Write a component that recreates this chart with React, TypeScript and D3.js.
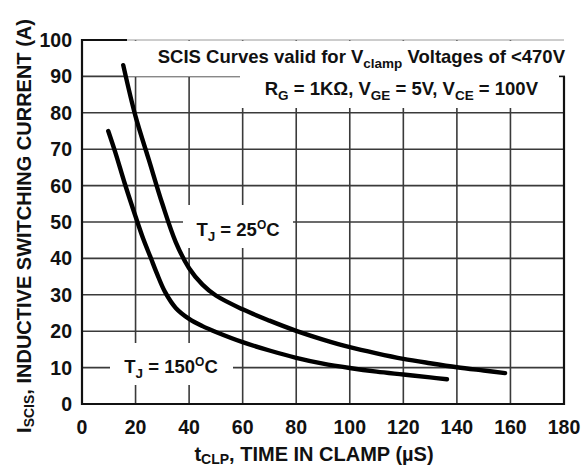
import React from "react";
import * as d3 from "d3";

const xTicks = [0, 20, 40, 60, 80, 100, 120, 140, 160, 180];
const yTicks = [0, 10, 20, 30, 40, 50, 60, 70, 80, 90, 100];

const t25X = [15.4, 20, 25, 30, 35, 40, 45, 50, 60, 70, 80, 90, 100, 110, 120, 130, 140, 150, 158];
const t25Y = [93.1, 79, 67, 55, 44.5, 37.3, 32.8, 29.8, 26, 22.9, 20.1, 17.7, 15.6, 13.9, 12.4, 11.2, 10.1, 9.2, 8.5];

const t150X = [9.8, 12.5, 16, 20, 22.9, 25.6, 28, 31, 35, 40, 45, 50, 60, 70, 80, 90, 100, 110, 120, 130, 136.3];
const t150Y = [75, 69, 60.5, 51.5, 45.3, 40.3, 35.8, 30.8, 26.4, 23.4, 21.4, 19.8, 17, 14.7, 12.7, 11.1, 9.9, 8.9, 8.1, 7.3, 6.8];

const FONT = "'Liberation Sans', Arial, Helvetica, sans-serif";

export default function App() {
  const x = d3.scaleLinear().domain([0, 180]).range([82, 564]);
  const y = d3.scaleLinear().domain([0, 100]).range([404, 40]);
  const line = d3
    .line<[number, number]>()
    .x((d) => x(d[0]))
    .y((d) => y(d[1]))
    .curve(d3.curveCatmullRom.alpha(0.5));
  const p25 = line(t25X.map((v, i) => [v, t25Y[i]] as [number, number])) || "";
  const p150 = line(t150X.map((v, i) => [v, t150Y[i]] as [number, number])) || "";
  const gridColor = "#3a3a3a";

  return (
    <svg
      width={582}
      height={469}
      style={{ position: "absolute", left: 0, top: 0, background: "#fff" }}
      fontFamily={FONT}
      fontWeight="bold"
    >
      <rect x={0} y={0} width={582} height={469} fill="#fff" />
      {/* grid */}
      {xTicks.slice(1, -1).map((t) => (
        <line key={"vx" + t} x1={x(t)} x2={x(t)} y1={y(0)} y2={y(100)} stroke={gridColor} strokeWidth={1.6} />
      ))}
      {yTicks.slice(1, -1).map((t) => (
        <line key={"hy" + t} x1={x(0)} x2={x(180)} y1={y(t)} y2={y(t)} stroke={gridColor} strokeWidth={1.6} />
      ))}
      {/* white masks */}
      <rect x={127} y={y(100) + 1} width={x(180) - 127 + 2} height={y(90) - y(100) - 1} fill="#fff" />
      <rect x={240} y={y(90) - 1} width={x(180) - 240 + 2} height={108 - y(90) + 1} fill="#fff" />
      <rect x={183} y={205} width={110} height={43} fill="#fff" />
      <rect x={110} y={343} width={123} height={42} fill="#fff" />
      {/* borders */}
      <line x1={x(0)} x2={x(180)} y1={y(100)} y2={y(100)} stroke="#9a9a9a" strokeWidth={1} />
      <line x1={x(0) - 1} x2={127} y1={y(100)} y2={y(100)} stroke="#111" strokeWidth={2} />
      <line x1={x(0)} x2={x(0)} y1={y(100) - 1} y2={y(0) + 1} stroke="#111" strokeWidth={2.2} />
      <line x1={x(0) - 1} x2={x(180) + 1} y1={y(0)} y2={y(0)} stroke="#111" strokeWidth={2.2} />
      <line x1={x(180)} x2={x(180)} y1={y(90)} y2={y(0) + 1} stroke="#111" strokeWidth={2.2} />
      <line x1={x(180) - 5} x2={x(180) + 1} y1={y(90)} y2={y(90)} stroke="#111" strokeWidth={1.6} />
      {/* curves */}
      <path d={p25} fill="none" stroke="#000" strokeWidth={4.4} strokeLinecap="round" strokeLinejoin="round" />
      <path d={p150} fill="none" stroke="#000" strokeWidth={4.4} strokeLinecap="round" strokeLinejoin="round" />
      {/* tick labels */}
      {yTicks.map((t) => (
        <text key={"yl" + t} x={72} y={y(t)} dy="0.36em" textAnchor="end" fontSize={19.5} fill="#111">
          {t}
        </text>
      ))}
      {xTicks.map((t) => (
        <text key={"xl" + t} x={x(t)} y={434} textAnchor="middle" fontSize={19.5} fill="#111">
          {t}
        </text>
      ))}
      {/* axis titles */}
      <text x={314} y={461} textAnchor="middle" fontSize={20} fill="#111">
        t<tspan fontSize={14} dy={3}>CLP</tspan>
        <tspan dy={-3}>, TIME IN CLAMP (µS)</tspan>
      </text>
      <text transform="translate(31,226) rotate(-90)" textAnchor="middle" fontSize={20} fill="#111">
        I<tspan fontSize={14} dy={3}>SCIS</tspan>
        <tspan dy={-3}>, INDUCTIVE SWITCHING CURRENT (A)</tspan>
      </text>
      {/* annotations */}
      <text x={565} y={63} textAnchor="end" fontSize={18.5} fill="#111">
        SCIS Curves valid for V<tspan fontSize={13.5} dy={5}>clamp</tspan>
        <tspan dy={-5}> Voltages of &lt;470V</tspan>
      </text>
      <text x={538} y={95} textAnchor="end" fontSize={18.5} fill="#111">
        R<tspan fontSize={13.5} dy={5}>G</tspan>
        <tspan dy={-5}> = 1KΩ, V</tspan>
        <tspan fontSize={13.5} dy={5}>GE</tspan>
        <tspan dy={-5}> = 5V, V</tspan>
        <tspan fontSize={13.5} dy={5}>CE</tspan>
        <tspan dy={-5}> = 100V</tspan>
      </text>
      <text x={238} y={236} textAnchor="middle" fontSize={18.5} fill="#111">
        T<tspan fontSize={13.5} dy={5}>J</tspan>
        <tspan dy={-5}> = 25</tspan>
        <tspan fontSize={12} dy={-7}>O</tspan>
        <tspan dy={7}>C</tspan>
      </text>
      <text x={171} y={373} textAnchor="middle" fontSize={18.5} fill="#111">
        T<tspan fontSize={13.5} dy={5}>J</tspan>
        <tspan dy={-5}> = 150</tspan>
        <tspan fontSize={12} dy={-7}>O</tspan>
        <tspan dy={7}>C</tspan>
      </text>
    </svg>
  );
}
